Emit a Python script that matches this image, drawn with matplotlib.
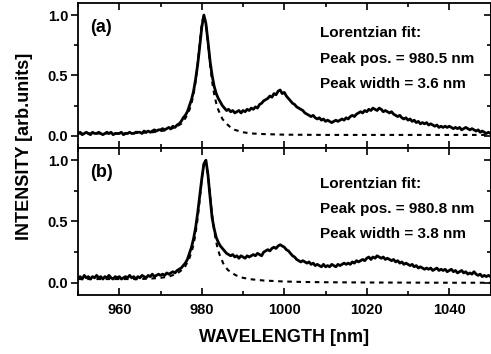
import numpy as np
import matplotlib
matplotlib.use('Agg')
import matplotlib.pyplot as plt
from matplotlib.ticker import MultipleLocator

plt.rcParams['font.family'] = ['Liberation Sans', 'DejaVu Sans']
plt.rcParams['font.weight'] = 'bold'

# measured spectra, 0.5 nm sampling from 950 to 1050 nm
wl = np.arange(950.0, 1050.01, 0.5)

spec_a = [
    0.02, 0.03, 0.01, 0.02, 0.03, 0.02, 0.01, 0.03, 0.02, 0.02,
    0.03, 0.02, 0.01, 0.02, 0.03, 0.02, 0.03, 0.01, 0.02, 0.02,
    0.02, 0.03, 0.01, 0.02, 0.02, 0.03, 0.02, 0.02, 0.03, 0.03,
    0.03, 0.02, 0.04, 0.03, 0.04, 0.03, 0.04, 0.05, 0.04, 0.05,
    0.05, 0.06, 0.05, 0.06, 0.07, 0.06, 0.08, 0.07, 0.09, 0.10,
    0.12, 0.15, 0.17, 0.20, 0.25, 0.30, 0.37, 0.47, 0.59, 0.74,
    0.90, 1.00, 0.93, 0.78, 0.62, 0.50, 0.41, 0.35, 0.31, 0.28,
    0.25, 0.23, 0.21, 0.22, 0.20, 0.21, 0.19, 0.20, 0.21, 0.19,
    0.21, 0.20, 0.22, 0.21, 0.23, 0.22, 0.24, 0.23, 0.26, 0.27,
    0.29, 0.30, 0.31, 0.33, 0.32, 0.35, 0.34, 0.37, 0.38, 0.35,
    0.36, 0.33, 0.31, 0.29, 0.27, 0.26, 0.24, 0.23, 0.22, 0.21,
    0.19, 0.18, 0.17, 0.16, 0.17, 0.15, 0.14, 0.15, 0.13, 0.14,
    0.12, 0.13, 0.12, 0.11, 0.12, 0.13, 0.12, 0.13, 0.14, 0.13,
    0.15, 0.14, 0.16, 0.17, 0.16, 0.18, 0.19, 0.20, 0.19, 0.21,
    0.20, 0.22, 0.21, 0.23, 0.22, 0.21, 0.23, 0.22, 0.20, 0.21,
    0.20, 0.19, 0.20, 0.18, 0.17, 0.16, 0.17, 0.15, 0.14, 0.15,
    0.13, 0.14, 0.12, 0.13, 0.11, 0.12, 0.10, 0.11, 0.10, 0.11,
    0.09, 0.10, 0.09, 0.08, 0.09, 0.07, 0.08, 0.07, 0.08, 0.07,
    0.08, 0.07, 0.06, 0.07, 0.06, 0.07, 0.05, 0.06, 0.07, 0.06,
    0.05, 0.06, 0.05, 0.04, 0.05, 0.03, 0.04, 0.03, 0.02, 0.03,
    0.02,
]

spec_b = [
    0.04, 0.05, 0.03, 0.06, 0.04, 0.05, 0.03, 0.05, 0.04, 0.06,
    0.04, 0.05, 0.03, 0.05, 0.04, 0.06, 0.04, 0.03, 0.05, 0.04,
    0.05, 0.03, 0.04, 0.05, 0.04, 0.06, 0.04, 0.05, 0.03, 0.05,
    0.04, 0.06, 0.05, 0.04, 0.06, 0.05, 0.07, 0.05, 0.06, 0.07,
    0.06, 0.07, 0.06, 0.08, 0.07, 0.08, 0.09, 0.08, 0.10, 0.11,
    0.12, 0.14, 0.16, 0.19, 0.24, 0.29, 0.36, 0.45, 0.57, 0.71,
    0.85, 0.97, 1.00, 0.88, 0.70, 0.53, 0.44, 0.37, 0.33, 0.30,
    0.28, 0.26, 0.24, 0.23, 0.22, 0.23, 0.21, 0.22, 0.20, 0.22,
    0.21, 0.20, 0.22, 0.21, 0.22, 0.23, 0.22, 0.24, 0.23, 0.22,
    0.25, 0.26, 0.27, 0.26, 0.28, 0.29, 0.28, 0.30, 0.31, 0.30,
    0.29, 0.27, 0.26, 0.24, 0.22, 0.21, 0.19, 0.18, 0.17, 0.18,
    0.17, 0.16, 0.17, 0.15, 0.16, 0.14, 0.15, 0.14, 0.13, 0.15,
    0.13, 0.14, 0.13, 0.15, 0.14, 0.13, 0.15, 0.14, 0.15, 0.16,
    0.15, 0.16, 0.15, 0.17, 0.16, 0.18, 0.17, 0.18, 0.19, 0.18,
    0.20, 0.21, 0.19, 0.21, 0.20, 0.22, 0.21, 0.20, 0.21, 0.19,
    0.20, 0.19, 0.18, 0.19, 0.17, 0.18, 0.16, 0.17, 0.15, 0.16,
    0.15, 0.14, 0.15, 0.13, 0.14, 0.12, 0.13, 0.12, 0.11, 0.12,
    0.11, 0.12, 0.10, 0.11, 0.12, 0.10, 0.11, 0.10, 0.11, 0.09,
    0.10, 0.11, 0.09, 0.10, 0.08, 0.09, 0.10, 0.08, 0.09, 0.07,
    0.08, 0.07, 0.09, 0.07, 0.06, 0.07, 0.05, 0.06, 0.05, 0.06,
    0.05,
]

# Lorentzian fit curves (dashed)
fit_wl_a = [950, 955, 960, 965, 968, 970, 972, 974, 975, 976, 977, 977.5,
            978, 978.5, 979, 979.5, 980, 980.5, 981, 981.5, 982, 982.5,
            983, 983.5, 984, 985, 986, 987, 988, 990, 992, 995, 1000,
            1005, 1010, 1020, 1030, 1040, 1050]
fit_a = [0.02, 0.02, 0.02, 0.025, 0.03, 0.04, 0.05, 0.08, 0.10, 0.145,
         0.215, 0.27, 0.345, 0.45, 0.595, 0.765, 0.93, 1.00, 0.93, 0.765,
         0.595, 0.45, 0.345, 0.27, 0.215, 0.14, 0.10, 0.07, 0.05, 0.03,
         0.02, 0.015, 0.01, 0.009, 0.008, 0.008, 0.008, 0.008, 0.008]

fit_wl_b = [950, 955, 960, 965, 968, 970, 972, 974, 975, 976, 977, 977.8,
            978.3, 978.8, 979.3, 979.8, 980.3, 980.8, 981.3, 981.8, 982.3,
            982.8, 983.3, 983.8, 984.3, 985.3, 986.3, 987.3, 988.3, 990,
            992, 995, 1000, 1005, 1010, 1020, 1030, 1040, 1050]
fit_b = [0.03, 0.03, 0.03, 0.03, 0.035, 0.04, 0.05, 0.075, 0.10, 0.135,
         0.20, 0.285, 0.365, 0.475, 0.615, 0.785, 0.935, 1.00, 0.935, 0.785,
         0.615, 0.475, 0.365, 0.285, 0.23, 0.15, 0.105, 0.08, 0.06, 0.04,
         0.028, 0.018, 0.01, 0.006, 0.004, 0.002, 0.001, 0.0, 0.0]

notes_a = ['Lorentzian fit:', 'Peak pos. = 980.5 nm', 'Peak width = 3.6 nm']
notes_b = ['Lorentzian fit:', 'Peak pos. = 980.8 nm', 'Peak width = 3.8 nm']


def style(ax, show_xlabels):
    ax.set_xlim(950, 1050)
    ax.set_ylim(-0.1, 1.1)
    ax.xaxis.set_major_locator(MultipleLocator(20))
    ax.xaxis.set_minor_locator(MultipleLocator(10))
    ax.yaxis.set_major_locator(MultipleLocator(0.5))
    ax.yaxis.set_minor_locator(MultipleLocator(0.25))
    for s in ax.spines.values():
        s.set_linewidth(1.3)
    ax.tick_params(axis='x', which='both', direction='in', top=True,
                   bottom=True, labelbottom=show_xlabels, width=1.2,
                   labelsize=10.5, pad=6)
    ax.tick_params(axis='x', which='major', length=5)
    ax.tick_params(axis='x', which='minor', length=3)
    ax.tick_params(axis='y', which='both', direction='out', right=False,
                   width=1.2, labelsize=10.5, pad=2)
    ax.tick_params(axis='y', which='major', length=5)
    ax.tick_params(axis='y', which='minor', length=3)
    sec = ax.secondary_yaxis('right')
    sec.yaxis.set_major_locator(MultipleLocator(0.5))
    sec.yaxis.set_minor_locator(MultipleLocator(0.25))
    sec.tick_params(axis='y', which='both', direction='in', labelright=False,
                    width=1.2)
    sec.tick_params(axis='y', which='major', length=5)
    sec.tick_params(axis='y', which='minor', length=3)
    sec.spines['right'].set_linewidth(1.3)


fig = plt.figure(figsize=(4.91, 3.54), dpi=100)
ax_a = fig.add_axes([0.159, 0.582, 0.840, 0.4096])
ax_b = fig.add_axes([0.159, 0.1667, 0.840, 0.4153])

for ax, spec, fw, fv, notes, tag, ys, ytag in [
        (ax_a, spec_a, fit_wl_a, fit_a, notes_a, '(a)',
         [0.763, 0.584, 0.412], 0.802),
        (ax_b, spec_b, fit_wl_b, fit_b, notes_b, '(b)',
         [0.726, 0.556, 0.386], 0.80)]:
    ax.plot(fw, fv, color='black', lw=1.5, ls=(0, (2.2, 2.2)))
    ax.plot(wl, spec, color='black', lw=2.0)
    style(ax, ax is ax_b)
    ax.text(0.029, ytag, tag, transform=ax.transAxes, fontsize=13,
            fontweight='bold', va='baseline', ha='left')
    for y, t in zip(ys, notes):
        ax.text(0.587, y, t, transform=ax.transAxes, fontsize=11,
                fontweight='bold', va='baseline', ha='left')

fig.text(284 / 491, 1 - 338 / 354, 'WAVELENGTH [nm]', ha='center',
         va='center', fontsize=13, fontweight='bold')
fig.text(25 / 491, 1 - 146 / 354, 'INTENSITY [arb.units]', ha='center',
         va='center', rotation=90, fontsize=13, fontweight='bold')

fig.savefig('out.png', dpi=100)
